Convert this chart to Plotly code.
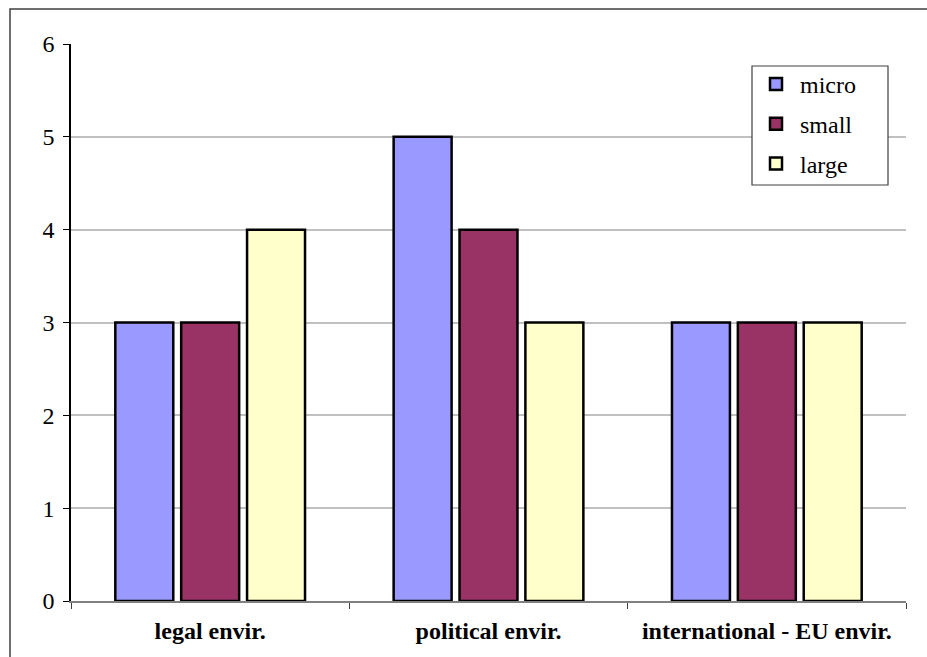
import plotly.graph_objects as go

categories = ["legal envir.", "political envir.", "international - EU envir."]
series_names = ["micro", "small", "large"]
micro = [3, 5, 3]
small = [3, 4, 3]
large = [4, 3, 3]
y_ticks = [0, 1, 2, 3, 4, 5, 6]

colors = ["#9999FF", "#993366", "#FFFFCC"]
FONT = "Liberation Serif"
FS = 24

fig = go.Figure()
for i, (name, vals) in enumerate(zip(series_names, [micro, small, large])):
    fig.add_trace(go.Bar(
        x=categories, y=vals, name=name, legendgroup=name,
        marker=dict(color=colors[i], line=dict(color="black", width=2.5)),
        hoverinfo="skip",
    ))

W, H = 927, 657
L, R, T, B = 71, 21, 44, 56
pw, ph = W - L - R, H - T - B

def px_x(p):
    return (p - L) / pw

def px_y(p):
    return (H - B - p) / ph

fig.update_layout(
    width=W, height=H,
    margin=dict(l=L, r=R, t=T, b=B, pad=0),
    paper_bgcolor="white", plot_bgcolor="white",
    barmode="group", bargap=0.29, bargroupgap=0.12,
    font=dict(family=FONT, size=FS, color="black"),
    showlegend=True,
    legend=dict(
        x=px_x(752), y=px_y(62), xanchor="left", yanchor="top",
        borderwidth=0, bgcolor="rgba(0,0,0,0)",
        font=dict(family=FONT, size=FS, color="black"),
        tracegroupgap=5.5, itemwidth=38,
    ),
    xaxis=dict(
        showline=True, linecolor="#808080", linewidth=1.5,
        ticks="outside", ticklen=6, tickcolor="#404040",
        tickson="boundaries", ticklabelstandoff=7,
        tickfont=dict(family=FONT, size=FS, color="black", weight="bold"),
        showgrid=False,
    ),
    yaxis=dict(
        range=[0, 6], tickvals=y_ticks,
        showline=True, linecolor="black", linewidth=1.5,
        ticks="outside", ticklen=6, tickcolor="black",
        showgrid=True, gridcolor="#C0C0C0", gridwidth=1.5,
        zeroline=False, ticklabelstandoff=4,
        tickfont=dict(family=FONT, size=FS, color="black"),
    ),
    shapes=[
        dict(
            type="rect", xref="paper", yref="paper",
            x0=px_x(10), x1=px_x(960), y0=px_y(700), y1=px_y(9),
            line=dict(color="#404040", width=1.5), fillcolor="rgba(0,0,0,0)",
            layer="below",
        ),
        dict(
            type="rect", xref="paper", yref="paper",
            x0=px_x(752), x1=px_x(888), y0=px_y(185), y1=px_y(66),
            line=dict(color="#404040", width=1.2), fillcolor="white",
            layer="above",
        ),
    ],
)

fig.write_html("out.html", config={"displayModeBar": False})
